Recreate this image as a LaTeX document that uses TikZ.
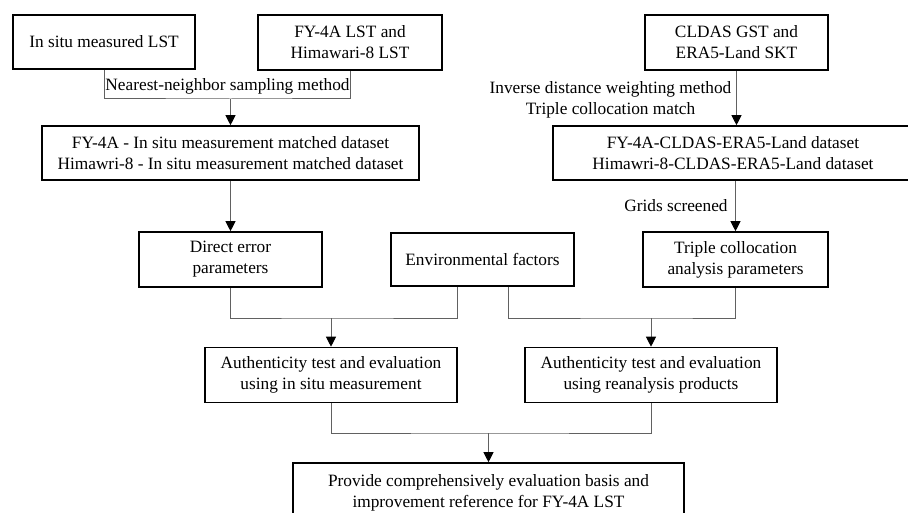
\documentclass[tikz,border=0pt]{standalone}
\usepackage{fontspec}
\setmainfont{Liberation Serif}
\usetikzlibrary{arrows.meta}
\tikzset{
  box/.style={draw=black, line width=1.6pt, fill=white, align=center, inner sep=0pt, font=\fontsize{17.3}{21}\selectfont},
  lbl/.style={align=center, inner sep=0pt, font=\fontsize{17.3}{21}\selectfont},
  conn/.style={draw=black!62, line width=1pt},
  arr/.style={conn, -{Triangle[length=10pt,width=10pt,fill=black,color=black]}}
}
\begin{document}
\begin{tikzpicture}[x=1pt,y=-1pt]
\useasboundingbox (0,0) rectangle (908,513);
\clip (0,0) rectangle (908,513);
\fill[white] (0,0) rectangle (908,513);
% top row
\node[box, minimum width=182pt, minimum height=54pt] (b1) at (104,42) {In situ measured LST};
\node[box, minimum width=184pt, minimum height=55pt] (b2) at (350,42.5) {FY-4A LST and\\Himawari-8 LST};
\node[box, minimum width=183pt, minimum height=55pt] (r1) at (736.5,42.5) {CLDAS GST and\\ERA5-Land SKT};
% second row
\node[box, minimum width=377pt, minimum height=54pt] (b3) at (230.5,153) {FY-4A - In situ measurement matched dataset\\Himawri-8 - In situ measurement matched dataset};
\node[box, minimum width=360pt, minimum height=54pt] (r2) at (733,153) {FY-4A-CLDAS-ERA5-Land dataset\\Himawri-8-CLDAS-ERA5-Land dataset};
% third row
\node[box, minimum width=183pt, minimum height=55pt] (b4) at (230.5,259.5) {Direct error\\parameters};
\node[box, minimum width=183pt, minimum height=53pt] (b5) at (482.5,259.5) {Environmental factors};
\node[box, minimum width=185pt, minimum height=55pt] (b6) at (735.5,259.5) {Triple collocation\\analysis parameters};
% fourth row
\node[box, minimum width=252pt, minimum height=55pt] (b7) at (331,375) {Authenticity test and evaluation\\using in situ measurement};
\node[box, minimum width=252pt, minimum height=55pt] (b8) at (651,375) {Authenticity test and evaluation\\using reanalysis products};
% bottom
\node[box, minimum width=391pt, minimum height=59pt] (b9) at (488.5,492.5) {Provide comprehensively evaluation basis and\\improvement reference for FY-4A LST};
% labels
\node[lbl] (l1) at (227.5,86) {Nearest-neighbor sampling method};
\node[lbl] (l2) at (610.5,100) {Inverse distance weighting method\\Triple collocation match};
\node[lbl] (l3) at (676,206) {Grids screened};
% junctions
\coordinate (j1) at (230.5,99);
\coordinate (j2) at (331,318);
\coordinate (j3) at (651,318);
\coordinate (j4) at (488.5,433);
\coordinate (e1) at ([xshift=-25.5pt]b5.south);
\coordinate (e2) at ([xshift=25.5pt]b5.south);
% connectors
\draw[conn] (b1.south) |- (j1) -| (b2.south);
\draw[arr] (j1) -- (b3.north);
\draw[arr] (b3.south) -- (b4.north);
\draw[arr] (r1.south) -- (r1.south |- r2.north);
\draw[arr] (b6.north |- r2.south) -- (b6.north);
\draw[conn] (b4.south) |- (j2) -| (e1);
\draw[arr] (j2) -- (b7.north);
\draw[conn] (e2) |- (j3) -| (b6.south);
\draw[arr] (j3) -- (b8.north);
\draw[conn] (b7.south) |- (j4) -| (b8.south);
\draw[arr] (j4) -- (b9.north);
\end{tikzpicture}
\end{document}
